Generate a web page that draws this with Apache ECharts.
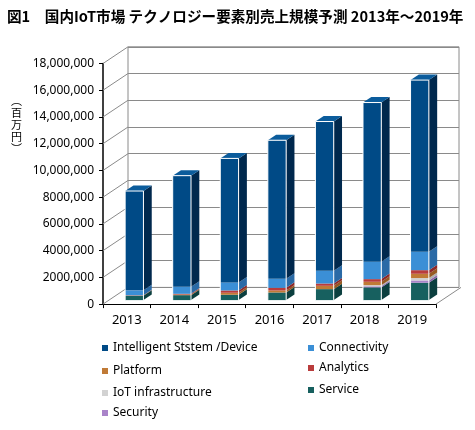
<html>
<head>
<meta charset="utf-8">
<title>国内IoT市場 テクノロジー要素別売上規模予測</title>
<script src="https://cdn.jsdelivr.net/npm/echarts@6/dist/echarts.min.js"></script>
<style>
  html, body { margin: 0; padding: 0; background: #fff; }
  #main { width: 475px; height: 430px; }
</style>
</head>
<body>
<div id="main"></div>
<script>
  // values in 百万円
  var years = ['2013', '2014', '2015', '2016', '2017', '2018', '2019'];
  var intelligent  = [7430000, 8320000, 9280000, 10370000, 11170000, 11910000, 12850000];
  var connectivity = [370000, 520000, 600000, 670000, 950000, 1300000, 1370000];
  var platform     = [20000, 50000, 150000, 150000, 250000, 250000, 320000];
  var analytics    = [20000, 50000, 170000, 200000, 170000, 200000, 270000];
  var iotInfra     = [0, 0, 0, 0, 0, 90000, 180000];
  var security     = [0, 0, 0, 0, 0, 80000, 170000];
  var service      = [320000, 370000, 400000, 570000, 820000, 950000, 1300000];

  var yTicks = [0, 2000000, 4000000, 6000000, 8000000, 10000000, 12000000, 14000000, 16000000, 18000000];
  var yTickLabels = ['0', '2000,000', '4000,000', '6000,000', '8000,000', '10,000,000',
                     '12,000,000', '14,000,000', '16,000,000', '18,000,000'];

  var FONT = '"Noto Sans", "Noto Sans CJK JP", sans-serif';
  var WALL_X = 25, WALL_Y = -16.7;     // depth of the floor
  var BAR_X = 7.5, BAR_Y = -4;         // where the bar front sits in depth
  var DEP_X = 8.3, DEP_Y = -5.5;       // bar depth

  // bottom -> top
  var stack = [
    {name: 'Service', data: service, color: '#17605f', side: '#0b3f3f'},
    {name: 'Security', data: security, color: '#a983c9', side: '#8a66aa'},
    {name: 'IoT infrastructure', data: iotInfra, color: '#d2d2d2', side: '#b0b0b0'},
    {name: 'Platform', data: platform, color: '#c07a36', side: '#965a22'},
    {name: 'Analytics', data: analytics, color: '#b93c3c', side: '#8e2828'},
    {name: 'Connectivity', data: connectivity, color: '#3b8fd6', side: '#2a6aa6'},
    {name: 'Intelligent Ststem /Device', data: intelligent, color: '#004a86', side: '#00284d', top: '#0b5c9c'}
  ];

  function barRenderer(s, isTop) {
    return function (params, api) {
      var i = api.value(0), b = api.value(1), t = api.value(2);
      if (t - b <= 0) return;
      var cw = api.size([1, 0])[0];
      var cx = api.coord([i, 0])[0];
      var y0 = api.coord([i, 0])[1] + BAR_Y;
      var yb = api.coord([i, b])[1] + BAR_Y;
      var yt = api.coord([i, t])[1] + BAR_Y;
      var w = cw * 0.385;
      var fx0 = cx + BAR_X - w / 2, fx1 = fx0 + w;
      var kids = [
        {type: 'rect', shape: {x: fx0, y: yt, width: w, height: yb - yt}, style: {fill: s.color}},
        {type: 'polygon', shape: {points: [[fx1, yt], [fx1 + DEP_X, yt + DEP_Y], [fx1 + DEP_X, yb + DEP_Y], [fx1, yb]]},
         style: {fill: s.side}}
      ];
      if (isTop) {
        kids.push({type: 'polygon', shape: {points: [[fx0, yt], [fx0 + DEP_X, yt + DEP_Y], [fx1 + DEP_X, yt + DEP_Y], [fx1, yt]]},
                   style: {fill: s.top}});
        kids.push({type: 'polyline', shape: {points: [[fx0, y0], [fx0, yt], [fx1, yt], [fx1, y0]]},
                   style: {stroke: '#ffffff', lineWidth: 1, fill: null}});
      }
      return {type: 'group', children: kids};
    };
  }

  var cum = years.map(function () { return 0; });
  var barSeries = stack.map(function (s, k) {
    var d = s.data.map(function (v, i) {
      var b = cum[i]; cum[i] += v;
      return [i, b, b + v];
    });
    return {
      type: 'custom', name: s.name, xAxisIndex: 0, yAxisIndex: 0,
      renderItem: barRenderer(s, k === stack.length - 1),
      encode: {x: 0, y: [1, 2]}, data: d, clip: false, z: 5,
      itemStyle: {color: s.color}
    };
  });

  // diagonal lines from front axis ticks to the back wall
  var depthSeries = {
    type: 'custom', xAxisIndex: 0, yAxisIndex: 0, silent: true, z: 1, clip: false,
    data: yTicks.map(function (v) { return [0, v]; }),
    renderItem: function (params, api) {
      var cs = params.coordSys;
      var y = api.coord([0, api.value(1)])[1];
      var kids = [{type: 'line', shape: {x1: cs.x, y1: y, x2: cs.x + WALL_X, y2: y + WALL_Y},
                   style: {stroke: '#8a8a8a', lineWidth: 1}}];
      if (api.value(1) === 0) {
        kids.push({type: 'line', shape: {x1: cs.x + cs.width, y1: y, x2: cs.x + cs.width + WALL_X, y2: y + WALL_Y},
                   style: {stroke: '#8a8a8a', lineWidth: 1}});
      }
      return {type: 'group', children: kids};
    }
  };

  var legendPos = [
    ['Intelligent Ststem /Device', 102, 342],
    ['Platform', 102, 365],
    ['IoT infrastructure', 102, 387],
    ['Security', 102, 407],
    ['Connectivity', 308, 342],
    ['Analytics', 308, 362],
    ['Service', 308, 384]
  ];

  var chart = echarts.init(document.getElementById('main'));
  chart.setOption({
    animation: false,
    textStyle: {fontFamily: FONT},
    title: {
      text: '図1　国内IoT市場 テクノロジー要素別売上規模予測 2013年～2019年',
      left: 7, top: 9, padding: 0,
      textStyle: {fontSize: 14.6, fontWeight: 'bold', color: '#000', fontFamily: '"Noto Sans CJK JP", sans-serif'}
    },
    legend: legendPos.map(function (p) {
      return {
        data: [p[0]], left: p[1], top: p[2], padding: 0, icon: 'rect',
        itemWidth: 6, itemHeight: 6, selectedMode: false,
        textStyle: {fontSize: 12, color: '#000', fontFamily: FONT}
      };
    }),
    graphic: [{
      type: 'text', left: 11, top: 95,
      style: {text: '︵\n百\n万\n円\n︶', fontSize: 11, lineHeight: 12, fill: '#000',
              fontFamily: '"Noto Sans CJK JP", sans-serif', align: 'center'}
    }],
    grid: [
      {left: 103, right: 39, top: 63.5, height: 240.6},
      {left: 128, right: 16, top: 46.8, height: 240.6, show: true, borderColor: '#8a8a8a', borderWidth: 1}
    ],
    xAxis: [
      {
        type: 'category', gridIndex: 0, data: years, boundaryGap: true,
        axisLine: {lineStyle: {color: '#000', width: 1}},
        axisTick: {show: true, alignWithLabel: false, length: 4, lineStyle: {color: '#000'}},
        axisLabel: {fontSize: 13, color: '#000', margin: 10}
      },
      {type: 'category', gridIndex: 1, data: years, show: false}
    ],
    yAxis: [
      {
        type: 'value', gridIndex: 0, min: 0, max: 18000000, interval: 2000000,
        axisLine: {show: true, lineStyle: {color: '#000', width: 1.5}},
        axisTick: {show: true, length: 4, lineStyle: {color: '#000'}},
        splitLine: {show: false},
        axisLabel: {
          fontSize: 12, color: '#000', margin: 9,
          formatter: function (v) { return yTickLabels[Math.round(v / 2000000)]; }
        }
      },
      {
        type: 'value', gridIndex: 1, min: 0, max: 18000000, interval: 2000000,
        axisLine: {show: false}, axisTick: {show: false}, axisLabel: {show: false},
        splitLine: {show: true, lineStyle: {color: '#8a8a8a', width: 1}}
      }
    ],
    series: [depthSeries].concat(barSeries)
  });
</script>
</body>
</html>
